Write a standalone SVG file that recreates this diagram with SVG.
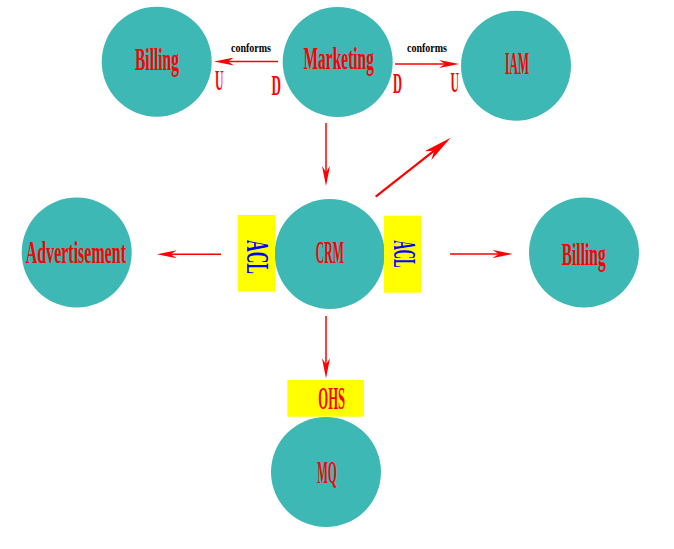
<svg xmlns="http://www.w3.org/2000/svg" width="674" height="549" viewBox="0 0 674 549">
<style>
.node{fill:#3EB8B4}
.lbl{font-family:"Liberation Serif","DejaVu Serif",serif;font-size:32px;font-weight:bold;fill:#FF0000;text-anchor:middle}
.acl{font-family:"Liberation Serif","DejaVu Serif",serif;font-size:31px;font-weight:bold;fill:#0000FF;text-anchor:middle}
.ud{font-family:"Liberation Serif","DejaVu Serif",serif;font-size:29px;font-weight:bold;fill:#FF0000}
.conf{font-family:"Liberation Serif","DejaVu Serif",serif;font-size:13px;font-weight:bold;fill:#000000}
.box{fill:#FFFF00}
.edge{stroke:#FF0000;stroke-width:1.5;fill:none}
.edge2{stroke:#FF0000;stroke-width:2.2;fill:none}
</style>
<defs>
<marker id="ah" viewBox="0 0 20 8" refX="6" refY="4" markerWidth="20" markerHeight="8" markerUnits="userSpaceOnUse" orient="auto">
<path d="M0,0 L20,4 L0,8 L6,4 z" fill="#FF0000"/>
</marker>
<marker id="ahL" viewBox="0 0 29 11" refX="8" refY="5.5" markerWidth="29" markerHeight="11" markerUnits="userSpaceOnUse" orient="auto">
<path d="M0,0 L29,5.5 L0,11 L8,5.5 z" fill="#FF0000"/>
</marker>
</defs>
<g id="connectors">
<path class="edge" d="M278,61.5 L228,61.5" marker-end="url(#ah)"/>
<path class="edge" d="M395,64 L445,64" marker-end="url(#ah)"/>
<path class="edge" d="M326,123 L326,172" marker-end="url(#ah)"/>
<path class="edge" d="M221,254.3 L170.7,254.3" marker-end="url(#ah)"/>
<path class="edge" d="M450,254 L498.7,254" marker-end="url(#ah)"/>
<path class="edge2" d="M375.7,196.7 L434.2,150.7" marker-end="url(#ahL)"/>
<path class="edge" d="M326,316 L326,364.3" marker-end="url(#ah)"/>
<text class="conf" x="231" y="52" textLength="40" lengthAdjust="spacingAndGlyphs">conforms</text>
<text class="conf" x="407" y="52" textLength="40" lengthAdjust="spacingAndGlyphs">conforms</text>
<text class="ud" x="215" y="90" textLength="8.5" lengthAdjust="spacingAndGlyphs">U</text>
<text class="ud" x="271.5" y="95" textLength="9.5" lengthAdjust="spacingAndGlyphs">D</text>
<text class="ud" x="393" y="93" textLength="9" lengthAdjust="spacingAndGlyphs">D</text>
<text class="ud" x="450.5" y="91.5" textLength="8.5" lengthAdjust="spacingAndGlyphs">U</text>
</g>
<g id="billing-left">
<circle class="node" cx="156.7" cy="61.7" r="55"/>
<text class="lbl" x="157" y="70" textLength="44" lengthAdjust="spacingAndGlyphs">Billing</text>
</g>
<g id="marketing">
<circle class="node" cx="337.7" cy="62" r="55"/>
<text class="lbl" x="338.7" y="68.5" textLength="70.5" lengthAdjust="spacingAndGlyphs">Marketing</text>
</g>
<g id="iam">
<circle class="node" cx="516" cy="65.7" r="55"/>
<text class="lbl" x="517" y="74" textLength="24" lengthAdjust="spacingAndGlyphs">IAM</text>
</g>
<g id="crm">
<circle class="node" cx="329.7" cy="254" r="55"/>
<text class="lbl" x="329.8" y="263.3" textLength="28.3" lengthAdjust="spacingAndGlyphs">CRM</text>
</g>
<g id="acl-left">
<rect class="box" x="237.7" y="215" width="37.3" height="76.7"/>
<text class="acl" transform="translate(247,257) rotate(90)" x="0" y="0" textLength="34" lengthAdjust="spacingAndGlyphs">ACL</text>
</g>
<g id="acl-right">
<rect class="box" x="384" y="215.7" width="37" height="77"/>
<text class="acl" transform="translate(393.5,254) rotate(90)" x="0" y="0" textLength="27" lengthAdjust="spacingAndGlyphs">ACL</text>
</g>
<g id="advertisement">
<circle class="node" cx="76.7" cy="252.5" r="55"/>
<text class="lbl" x="75.9" y="263.3" textLength="100.3" lengthAdjust="spacingAndGlyphs">Advertisement</text>
</g>
<g id="billing-right">
<circle class="node" cx="584" cy="252.5" r="55"/>
<text class="lbl" x="583.7" y="265" textLength="44" lengthAdjust="spacingAndGlyphs">Billing</text>
</g>
<g id="ohs">
<rect class="box" x="287.3" y="380" width="76.7" height="36.7"/>
<text class="lbl" x="331.7" y="409" textLength="26.7" lengthAdjust="spacingAndGlyphs">OHS</text>
</g>
<g id="mq">
<circle class="node" cx="326" cy="472" r="55"/>
<text class="lbl" x="327" y="483.3" textLength="19.4" lengthAdjust="spacingAndGlyphs">MQ</text>
</g>
</svg>
